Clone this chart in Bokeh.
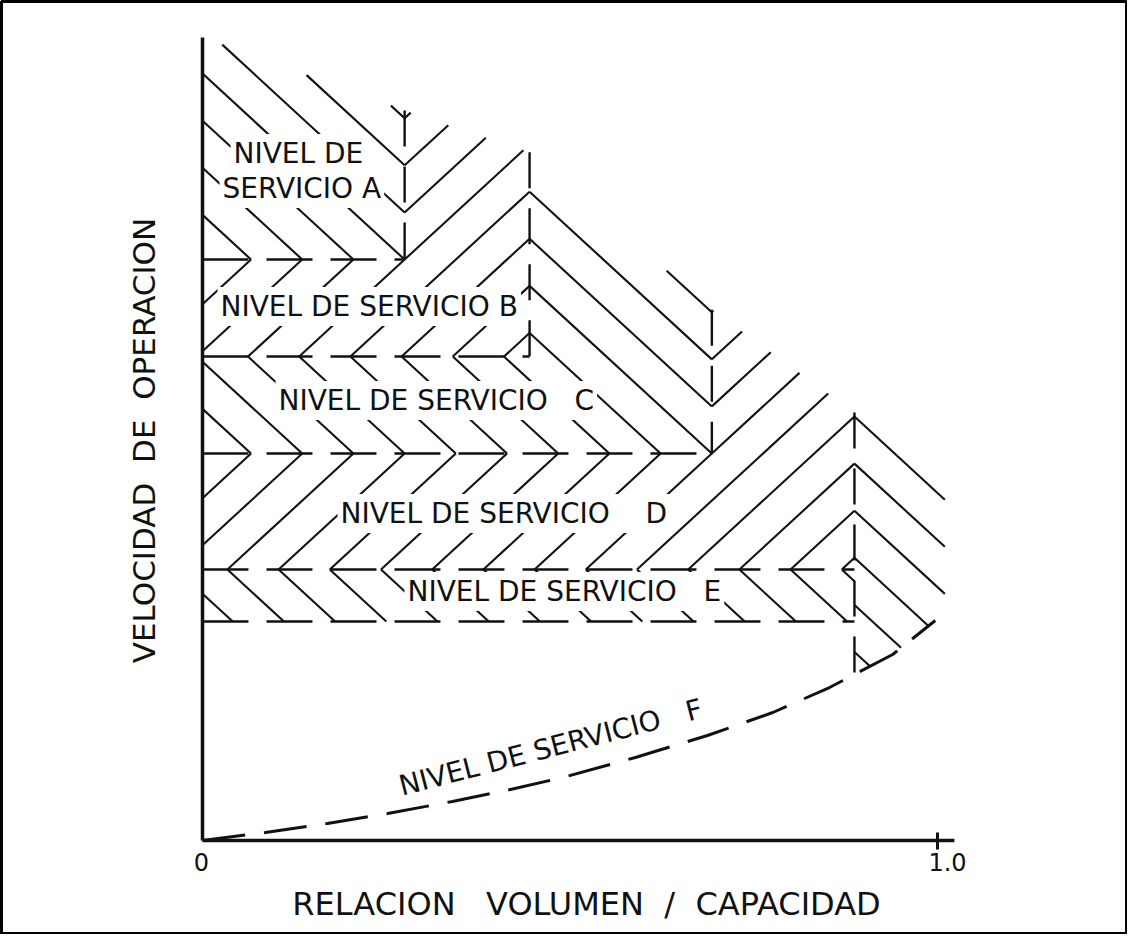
import math
import numpy as np
from bokeh.plotting import figure
from bokeh.models import Label, ColumnDataSource
from bokeh.embed import file_html
from bokeh.resources import INLINE
from bokeh.core.properties import value

NB = "\u00a0"

# ---------------- values ----------------
levels = ["A", "B", "C", "D", "E"]
vc_limit = [0.275, 0.445, 0.693, 0.887]            # v/c where levels A..D end (vertical dividers)
speed_limit = [72.35, 60.27, 48.19, 33.75, 27.27]  # lower speed edge of levels A..E
speed_top = [90.9, 85.7, 66.1, 53.3]               # upper end of each vertical divider
edge_vc = [1.010, 1.010]                           # right edge of level E band
edge_speed = [42.7, 30.5]
curve_vc = [0.0, 0.0857, 0.170, 0.252, 0.340, 0.419, 0.490, 0.589, 0.687, 0.776, 0.853, 0.939, 0.997]
curve_speed = [0.0, 1.0, 2.12, 3.36, 4.86, 6.35, 7.85, 10.34, 13.08, 15.94, 19.05, 23.16, 27.4]
axis_speed_max = 100.0
axis_vc_max = 1.023
x_ticks = [0.0, 1.0]
x_tick_labels = ["0", "1.0"]
level_texts = ["NIVEL DE", "SERVICIO A", "NIVEL DE SERVICIO B",
               "NIVEL DE SERVICIO" + NB * 3 + "C",
               "NIVEL DE SERVICIO" + NB * 4 + "D",
               "NIVEL DE SERVICIO" + NB * 3 + "E"]
f_text = "NIVEL DE SERVICIO" + NB * 3 + "F"
x_title = "RELACION" + NB * 3 + "VOLUMEN" + NB * 2 + "/" + NB * 2 + "CAPACIDAD"
y_title = "VELOCIDAD" + NB * 2 + "DE" + NB * 2 + "OPERACION"

# ---------------- layout ----------------
PX = 735.0   # screen px per unit of v/c
PY = 8.03    # screen px per unit of speed
W, H, MB = 1127, 934, 1
x_start = (9 - 210) / PX
x_end = x_start + (W - 2 * MB) / PX
y_end = (848 - 9) / PY
y_start = y_end - (H - 2 * MB) / PY
BASE_FIX = 9  # screen px correction of text baselines

FONT = "DejaVu Sans"
INK = "#111111"

p = figure(width=W, height=H, x_range=(x_start, x_end), y_range=(y_start, y_end),
           x_axis_type=None, y_axis_type=None, toolbar_location=None,
           output_backend="svg", title=None)
p.min_border_left = MB
p.min_border_right = MB
p.min_border_top = MB
p.min_border_bottom = MB
p.outline_line_color = "black"
p.outline_line_width = 3
p.background_fill_color = "white"
p.border_fill_color = "white"

# ---------------- hatching (generated from the region outlines) ----------------
xA, xB, xC, xD = vc_limit
yAB, yBC, yCD, yDE, yEF = speed_limit
tA, tB, tC, tD = speed_top
y_curve_D = float(np.interp(xD, curve_vc, curve_speed))

regions = {
    "A": [(0, yAB), (0, axis_speed_max), (xA, tA), (xA, yAB)],
    "B": [(0, yBC), (0, yAB), (xA, yAB), (xA, tA), (xB, tB), (xB, yBC)],
    "C": [(0, yCD), (0, yBC), (xB, yBC), (xB, tB), (xC, tC), (xC, yCD)],
    "D": [(0, yDE), (0, yCD), (xC, yCD), (xC, tC), (xD, tD), (xD, yDE)],
    "E1": [(0, yEF), (0, yDE), (xD, yDE), (xD, yEF)],
    "E2": [(xD, y_curve_D), (xD, tD), (edge_vc[0], edge_speed[0]), (edge_vc[1], edge_speed[1])]
          + [(cx, cy) for cx, cy in zip(curve_vc[::-1], curve_speed[::-1]) if cx > xD],
}

m = 0.92
def b_of(X, Y, sig):
    return Y - sig * m * X

# spacing chosen so that the B/C junctions fall on the vertical divider as well
dB = (yAB * PY - m * xA * PX) - (yBC * PY - m * xB * PX)
n = round(2 * abs(dB) / 47.0)
s = 2 * abs(dB) / n

fam = {}
fam["A"] = (-1, b_of(xA * PX, yAB * PY, -1))
fam["B"] = (1, 2 * yAB * PY - fam["A"][1])
fam["C"] = (-1, 2 * yBC * PY - fam["B"][1])
fam["D"] = (1, 2 * yCD * PY - fam["C"][1])
fam["E1"] = (-1, 2 * yDE * PY - fam["D"][1])
fam["E2"] = (-1, fam["D"][1] + 2 * m * xD * PX)

def clip_family(poly, sig, b0):
    P = np.array([(x * PX, y * PY) for x, y in poly], dtype=float)
    bv = P[:, 1] - sig * m * P[:, 0]
    kmin = math.ceil((bv.min() - b0) / s)
    kmax = math.floor((bv.max() - b0) / s)
    segs = []
    N = len(P)
    for k in range(kmin, kmax + 1):
        b = b0 + k * s
        f = bv - b
        pts = []
        for i in range(N):
            f1, f2 = f[i], f[(i + 1) % N]
            if (f1 > 0) != (f2 > 0):
                t = f1 / (f1 - f2)
                pts.append(P[i] + t * (P[(i + 1) % N] - P[i]))
        pts.sort(key=lambda q: q[0])
        for j in range(0, len(pts) - 1, 2):
            a, c = pts[j], pts[j + 1]
            if abs(a[0] - c[0]) > 0.5:
                segs.append((a[0] / PX, a[1] / PY, c[0] / PX, c[1] / PY))
    return segs

hx0, hy0, hx1, hy1 = [], [], [], []
for key, poly in regions.items():
    sig, b0 = fam[key]
    for a, b, c, d in clip_family(poly, sig, b0):
        hx0.append(a); hy0.append(b); hx1.append(c); hy1.append(d)

p.segment(x0=hx0, y0=hy0, x1=hx1, y1=hy1, line_color=INK, line_width=2.1)

# ---------------- level boundaries ----------------
for i in range(4):
    r = p.line([0, vc_limit[i]], [speed_limit[i], speed_limit[i]], line_color=INK,
               line_width=2.6, line_dash="46 18")
    r.level = "overlay"
r = p.line([0, vc_limit[3]], [speed_limit[4], speed_limit[4]], line_color=INK,
           line_width=2.6, line_dash="46 18")
r.level = "overlay"
for i in range(3):
    r = p.line([vc_limit[i], vc_limit[i]], [speed_top[i], speed_limit[i]], line_color=INK,
               line_width=2.4, line_dash="36 20")
    r.level = "overlay"
r = p.line([xD, xD], [speed_top[3], y_curve_D], line_color=INK, line_width=2.4, line_dash="36 20")
r.level = "overlay"

# level F curve
r = p.line(curve_vc, curve_speed, line_color=INK, line_width=3.0, line_dash="43 19")
r.level = "overlay"

# ---------------- axes ----------------
r = p.line([0, 0], [0, axis_speed_max], line_color=INK, line_width=3.5)
r.level = "overlay"
r = p.line([0, axis_vc_max], [0, 0], line_color=INK, line_width=3.5)
r.level = "overlay"
r = p.segment(x0=x_ticks[1:], y0=[-9 / PY] * len(x_ticks[1:]), x1=x_ticks[1:],
              y1=[8 / PY] * len(x_ticks[1:]), line_color=INK, line_width=3)
r.level = "overlay"

tick_src = ColumnDataSource(dict(x=x_ticks, y=[0.0] * len(x_ticks), text=x_tick_labels,
                                 xo=[-1, 10]))
p.text(x="x", y="y", text="text", x_offset="xo", y_offset=30 - BASE_FIX, source=tick_src,
       text_font=value(FONT), text_font_size="24px", text_color=INK,
       text_align="center", text_baseline="alphabetic")

# ---------------- labels ----------------
lab_pos = [(238, 170), (227, 205), (225, 323), (283, 417), (345, 530), (412, 608)]
for txt, (px_, py_) in zip(level_texts, lab_pos):
    p.add_layout(Label(x=(px_ - 210) / PX, y=(848 - py_ + BASE_FIX) / PY, text=txt,
                       text_font=FONT, text_font_size="28px", text_color=INK,
                       text_align="left", text_baseline="alphabetic",
                       background_fill_color="white", padding=3))

p.add_layout(Label(x=(407 - 210) / PX, y=(848 - 803 + BASE_FIX) / PY, text=f_text, angle=0.253,
                   text_font=FONT, text_font_size="28px", text_color=INK,
                   text_align="left", text_baseline="alphabetic"))

p.add_layout(Label(x=(594 - 210) / PX, y=(848 - 920 + BASE_FIX) / PY, text=x_title,
                   text_font=FONT, text_font_size="32px", text_color=INK,
                   text_align="center", text_baseline="alphabetic"))
p.add_layout(Label(x=(151 - 210) / PX, y=(848 - 448) / PY, text=y_title, angle=math.pi / 2,
                   text_font=FONT, text_font_size="31px", text_color=INK,
                   text_align="center", text_baseline="middle"))

open("out.html", "w").write(file_html(p, INLINE))
